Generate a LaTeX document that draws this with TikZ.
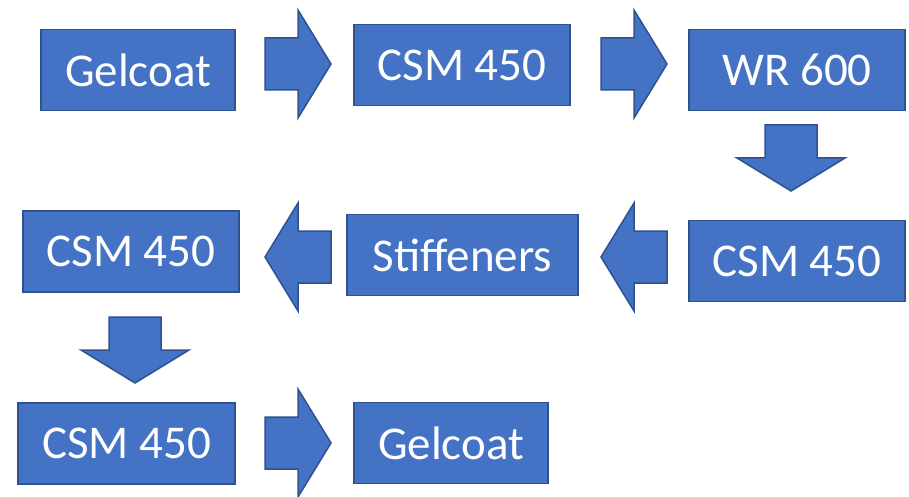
\documentclass[tikz,border=0pt]{standalone}
\usepackage{fontspec}
\setmainfont{Carlito}
\definecolor{layerblue}{HTML}{4472C4}
\definecolor{layeredge}{HTML}{2F528F}
\tikzset{
  layer/.style={draw=layeredge, fill=layerblue, line width=1.5pt,
    text=white, inner sep=0pt, minimum height=81pt,
    font=\fontsize{47}{56}\selectfont},
  blockarrow/.pic={
    \draw[draw=layeredge, fill=layerblue, line width=1.5pt, line join=miter]
      (0,-26) -- (33,-26) -- (33,-54) -- (66,0) -- (33,54) -- (33,26)
      -- (0,26) -- cycle;
  }
}
\begin{document}
\begin{tikzpicture}[x=1pt,y=-1pt]
  \useasboundingbox (0,0) rectangle (909,497);

  % Layers, in lay-up order
  \node[layer, minimum width=194pt] (gel1)  at (138,70)    {Gelcoat};
  \node[layer, minimum width=216pt] (csm1)  at (462,65)    {CSM 450};
  \node[layer, minimum width=216pt] (wr)    at (797,70)    {WR 600};
  \node[layer, minimum width=216pt] (csm2)  at (797,261)   {CSM 450};
  \node[layer, minimum width=231pt] (stiff) at (462.5,255) {Stiffeners};
  \node[layer, minimum width=216pt] (csm3)  at (131,251.5) {CSM 450};
  \node[layer, minimum width=217pt] (csm4)  at (126.5,443.5) {CSM 450};
  \node[layer, minimum width=194pt] (gel2)  at (451,443)   {Gelcoat};

  % Block arrows between the layers
  \pic at (265,64) {blockarrow};
  \pic at (601,64) {blockarrow};
  \pic[rotate=-90] at (791,125) {blockarrow};
  \pic[rotate=180] at (667,257) {blockarrow};
  \pic[rotate=180] at (331,257) {blockarrow};
  \pic[rotate=-90] at (135,317) {blockarrow};
  \pic at (265,443) {blockarrow};
\end{tikzpicture}
\end{document}
